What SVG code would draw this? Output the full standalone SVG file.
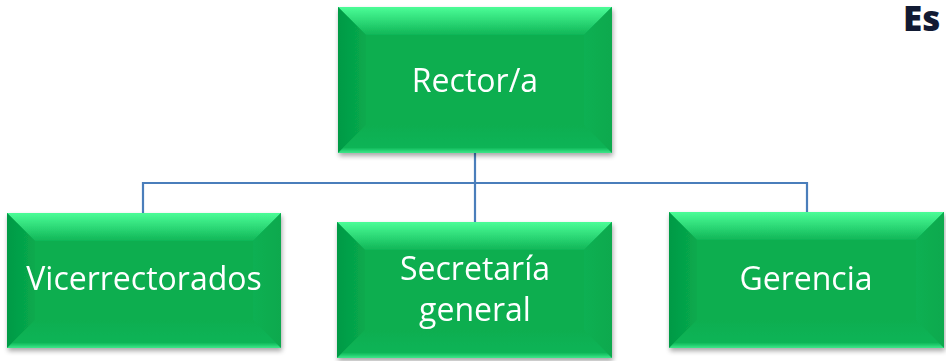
<svg xmlns="http://www.w3.org/2000/svg" width="946" height="361" viewBox="0 0 946 361">
<defs>
<linearGradient id="gTop" x1="0" y1="0" x2="0" y2="1">
<stop offset="0" stop-color="#4bfd97"/>
<stop offset="1" stop-color="#10b657"/>
</linearGradient>
<linearGradient id="gLeft" x1="0" y1="0" x2="1" y2="0">
<stop offset="0" stop-color="#039a45"/>
<stop offset="1" stop-color="#08aa4e"/>
</linearGradient>
<linearGradient id="gRight" x1="0" y1="0" x2="1" y2="0">
<stop offset="0" stop-color="#0bb052"/>
<stop offset="1" stop-color="#09a94e"/>
</linearGradient>
<linearGradient id="gBot" x1="0" y1="0" x2="0" y2="1">
<stop offset="0" stop-color="#07ae50"/>
<stop offset="0.8" stop-color="#0db456"/>
<stop offset="1" stop-color="#3de889"/>
</linearGradient>
<filter id="sh" x="-10%" y="-10%" width="120%" height="125%">
<feGaussianBlur in="SourceAlpha" stdDeviation="2.5"/>
<feOffset dx="1" dy="3" result="b"/>
<feComponentTransfer><feFuncA type="linear" slope="0.35"/></feComponentTransfer>
<feMerge><feMergeNode/><feMergeNode in="SourceGraphic"/></feMerge>
</filter>
</defs>
<style>
.main{fill:#08ae50}
.t{fill:#ffffff;font-family:"Open Sans","Noto Sans",sans-serif;font-size:32px;text-anchor:middle}
.conn{fill:none;stroke:#4a7ebb;stroke-width:2.2}
</style>
<rect width="946" height="361" fill="#ffffff"/>
<text x="903" y="31" font-family="'Open Sans','Noto Sans',sans-serif" font-weight="800" font-size="35" fill="#111a33">Es</text>
<g id="connectors">
<path class="conn" d="M475 153 V183 M143 213 V183 H807 V212 M475 183 V222"/>
</g>
<g id="rector" filter="url(#sh)">
<rect class="main" x="338" y="7" width="274" height="146"/>
<polygon fill="url(#gTop)" points="338,7 612,7 584,35 366,35"/>
<polygon fill="url(#gLeft)" points="338,7 366,35 366,125 338,153"/>
<polygon fill="url(#gRight)" points="612,7 612,153 584,125 584,35"/>
<polygon fill="url(#gBot)" points="338,153 366,125 584,125 612,153"/>
<text class="t" x="475" y="92">Rector/a</text>
</g>
<g id="vicerrectorados" filter="url(#sh)">
<rect class="main" x="7" y="213" width="274" height="135"/>
<polygon fill="url(#gTop)" points="7,213 281,213 253,241 35,241"/>
<polygon fill="url(#gLeft)" points="7,213 35,241 35,320 7,348"/>
<polygon fill="url(#gRight)" points="281,213 281,348 253,320 253,241"/>
<polygon fill="url(#gBot)" points="7,348 35,320 253,320 281,348"/>
<text class="t" x="144" y="290">Vicerrectorados</text>
</g>
<g id="secretaria" filter="url(#sh)">
<rect class="main" x="337" y="222" width="275" height="136"/>
<polygon fill="url(#gTop)" points="337,222 612,222 584,250 365,250"/>
<polygon fill="url(#gLeft)" points="337,222 365,250 365,330 337,358"/>
<polygon fill="url(#gRight)" points="612,222 612,358 584,330 584,250"/>
<polygon fill="url(#gBot)" points="337,358 365,330 584,330 612,358"/>
<text class="t" x="475" y="280">Secretaría</text>
<text class="t" x="475" y="321">general</text>
</g>
<g id="gerencia" filter="url(#sh)">
<rect class="main" x="669" y="212" width="275" height="136"/>
<polygon fill="url(#gTop)" points="669,212 944,212 916,240 697,240"/>
<polygon fill="url(#gLeft)" points="669,212 697,240 697,320 669,348"/>
<polygon fill="url(#gRight)" points="944,212 944,348 916,320 916,240"/>
<polygon fill="url(#gBot)" points="669,348 697,320 916,320 944,348"/>
<text class="t" x="806" y="290">Gerencia</text>
</g>
</svg>
